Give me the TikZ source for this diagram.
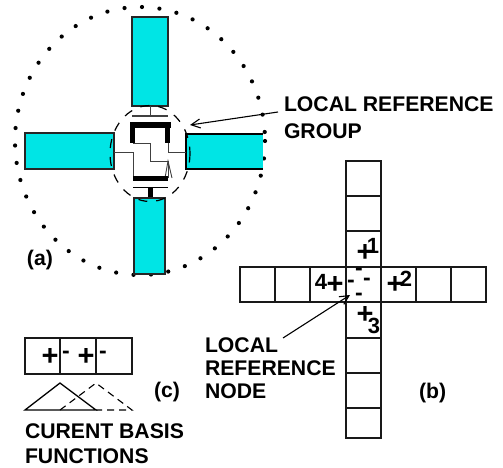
\documentclass[tikz,border=0pt]{standalone}
\usepackage{fontspec}
\setmainfont{Liberation Sans}
\usetikzlibrary{arrows.meta}
\definecolor{cyanfill}{RGB}{0,229,229}
\newcommand{\lblfont}{\fontsize{21.2}{25}\selectfont\bfseries}
\newcommand{\signfont}{\fontsize{29}{29}\selectfont\bfseries}
\newcommand{\minusfont}{\fontsize{23}{23}\selectfont\bfseries}
\newcommand{\numfont}{\fontsize{22}{22}\selectfont\bfseries}
\tikzset{
 x=1pt,y=-1pt,
 ant/.style={draw=black!85,line width=1.3pt,fill=cyanfill},
 wire/.style={draw=black!75,line width=0.9pt},
 thick bar/.style={draw=none,fill=black},
 cell/.style={draw=black!90,line width=1.4pt},
 lbl/.style={font=\lblfont,anchor=base west,inner sep=0pt,outer sep=0pt},
 sign/.style={font=\signfont,inner sep=0pt,outer sep=0pt},
 minus/.style={font=\minusfont,inner sep=0pt,outer sep=0pt},
 num/.style={font=\numfont,inner sep=0pt,outer sep=0pt},
 pointer/.style={draw=black,line width=1.1pt,-{Straight Barb[length=9pt,width=9pt]}},
}
\begin{document}
\begin{tikzpicture}
\useasboundingbox (0,0) rectangle (503,468);
% outer dotted ellipse
\draw[line width=4.2pt,line cap=round,dash pattern=on 0pt off 17.5pt,black] (140,141) ellipse [x radius=125,y radius=134];
% antennas
\path[ant] (132,17) rectangle (168,106);
\path[ant] (25,133) rectangle (114,169);
\path[fill=cyanfill] (186,134) rectangle (263,169);
\draw[black,line width=1.3pt] (263,134) -- (186,134) -- (186,169) -- (263,169);
\path[ant] (134,198) rectangle (165,274);
% inner dashed ellipse
\draw[black,line width=1.2pt,dash pattern=on 9pt off 9pt] (150,153.5) ellipse [x radius=40,y radius=48];
% central structure
\draw[wire] (150,106) -- (150,116);
\draw[wire,line width=1.3pt] (132,116) -- (168,116);
\path[thick bar] (130,122) rectangle (171,128);
\path[thick bar] (130,122) rectangle (135,143);
\path[thick bar] (165,122) rectangle (170,143);
\draw[wire] (114,152) -- (133,152) -- (133,178);
\draw[wire] (133,143) -- (150,143) -- (150,161) -- (168,161) -- (168,178);
\draw[wire] (168,143) -- (168,152) -- (186,152);
\draw[wire] (165,178) -- (168,161) -- (172,178);
\path[thick bar] (133,176) rectangle (168,181);
\draw[black,line width=1pt] (133,187) -- (168,187);
\path[thick bar] (147.5,187) rectangle (152.5,197);
% labels (a)
\node[lbl] (lrg1) at (284,112) {LOCAL REFERENCE};
\node[lbl] (lrg2) at (284,139) {GROUP};
\coordinate (grouptip) at (190,125);
\coordinate (grouptail) at (278,112);
\draw[pointer] (grouptail) -- (grouptip);
\node[lbl] (a) at (27,265) {(a)};
% grid (b)
\foreach \ya/\yb in {161/196,196/231,231/267,302/338,338/373,373/408,408/438}
  \draw[cell] (346,\ya) rectangle (381,\yb);
\foreach \xa/\xb in {240/275,275/310,310/346,346/381,381/416,416/451,451/486}
  \draw[cell] (\xa,267) rectangle (\xb,302);
\node[sign] (p1s) at (365,253) {+};
\node[num] (n1) at (373,246) {1};
\node[num] (n4) at (321,282) {4};
\node[sign] (p4s) at (335,285) {+};
\node[sign] (p2s) at (395,285) {+};
\node[num] (n2) at (406,279) {2};
\node[sign] (p3s) at (365,315) {+};
\node[num] (n3) at (374,326) {3};
\node[minus] (m1) at (359,272) {-};
\node[minus] (m2) at (351,284) {-};
\node[minus] (m3) at (367,282) {-};
\node[minus] (m4) at (359,297) {-};
\node[lbl] (lrn1) at (205,352) {LOCAL};
\node[lbl] (lrn2) at (205,375) {REFERENCE};
\node[lbl] (lrn3) at (205,398) {NODE};
\coordinate (nodetip) at (350,295);
\coordinate (nodetail) at (283,338);
\draw[pointer] (nodetail) -- (nodetip);
\node[lbl] (b) at (419,398) {(b)};
% (c)
\draw[cell] (25,338) rectangle (60,374);
\draw[cell] (96,338) rectangle (132,374);
\draw[cell,line width=1.6pt] (60,338) rectangle (96,374);
\node[sign] (cp1) at (50,357) {+};
\node[minus] (cm1) at (66,355) {-};
\node[sign] (cp2) at (86,357) {+};
\node[minus] (cm2) at (103,355) {-};
\draw[black,line width=1.3pt] (25,410) -- (60,383) -- (96,410) -- cycle;
\draw[black,line width=1.1pt,dash pattern=on 7pt off 5pt] (60,410) -- (96,383) -- (132,410) -- (96,410);
\node[lbl] (c) at (154,397) {(c)};
\node[lbl] (cb1) at (25,438) {CURENT BASIS};
\node[lbl] (cb2) at (25,463) {FUNCTIONS};
\end{tikzpicture}
\end{document}
